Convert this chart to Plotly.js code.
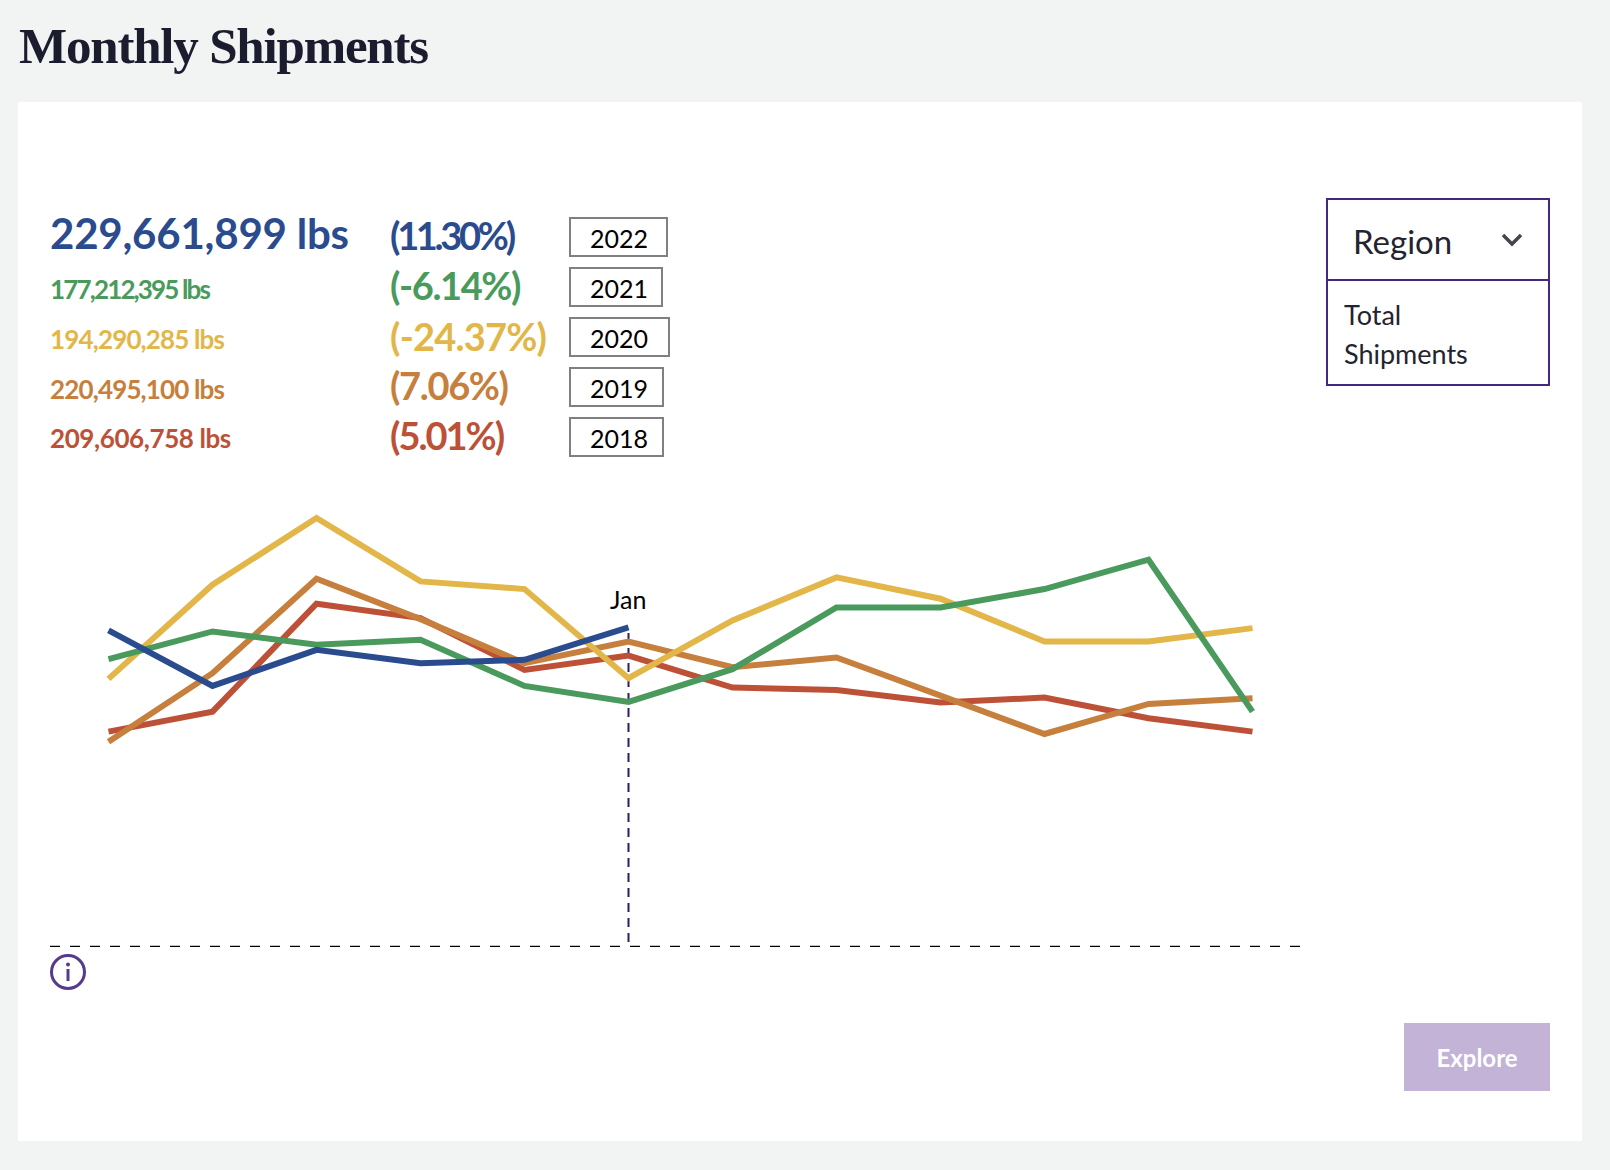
<!DOCTYPE html>
<html>
<head>
<meta charset="utf-8">
<script src="https://cdn.plot.ly/plotly-3.0.1.min.js"></script>
<style>
  html, body { margin: 0; padding: 0; }
  body { width: 1610px; height: 1170px; background: #f2f4f3; position: relative; overflow: hidden; font-family: Lato, sans-serif; }
  #card { position: absolute; left: 18px; top: 102px; width: 1564px; height: 1039px; background: #fff; }
  #plot { position: absolute; left: 0; top: 0; width: 1610px; height: 1170px; }
  .scatterlayer .js-line { stroke-linejoin: miter !important; }
  h1 { position: absolute; left: 19px; top: 14px; margin: 0; font: bold 51px/64px "Liberation Serif", serif; color: #1b1c2e; letter-spacing: -1.2px; }
  .txt { position: absolute; white-space: nowrap; transform: translateY(-50%); }
  .yearbox { position: absolute; box-sizing: border-box; height: 40px; border: 2px solid #808080; font-size: 25px; line-height: 38px; color: #000; padding-left: 19px; }
  #region { position: absolute; box-sizing: border-box; left: 1326px; top: 198px; width: 224px; height: 188px; border: 2px solid #42297e; }
  #region hr { position: absolute; left: 0; right: 0; top: 79px; margin: 0; border: 0; height: 2px; background: #42297e; }
  #explore { position: absolute; left: 1404px; top: 1023px; width: 146px; height: 68px; background: #c2b3d7; color: #fff; font-size: 24px; font-weight: 700; line-height: 70px; text-align: center; }
</style>
</head>
<body>
<div id="card"></div>
<div id="plot"></div>
<h1>Monthly Shipments</h1>
<div id="rows"></div>
<div id="region">
  <div class="txt" style="left:25px;top:41px;font-size:33px;color:#23242f">Region</div>
  <svg style="position:absolute;left:173px;top:32px" width="24" height="16"><path d="M2 3 L11 12 L20 3" fill="none" stroke="#45454d" stroke-width="3.5"/></svg>
  <hr>
  <div class="txt" style="left:16px;top:114px;font-size:27px;color:#23242f">Total</div>
  <div class="txt" style="left:16px;top:153px;font-size:27px;color:#23242f">Shipments</div>
</div>
<svg style="position:absolute;left:48px;top:952px" width="40" height="40">
  <circle cx="20" cy="20" r="16.5" fill="none" stroke="#553a8e" stroke-width="3"/>
  <circle cx="20" cy="12.5" r="2" fill="#553a8e"/>
  <line x1="20" y1="17" x2="20" y2="29" stroke="#553a8e" stroke-width="3"/>
</svg>
<div id="explore">Explore</div>

<script>
  // months run Aug-Jul, values in million lbs
  const months = ['Aug', 'Sep', 'Oct', 'Nov', 'Dec', 'Jan', 'Feb', 'Mar', 'Apr', 'May', 'Jun', 'Jul'];

  const y2018 = [12.90, 14.10, 20.56, 19.70, 16.60, 17.46, 15.54, 15.40, 14.64, 14.94, 13.70, 12.90];
  const y2019 = [12.30, 16.40, 22.06, 19.64, 17.00, 18.30, 16.76, 17.34, 15.06, 12.76, 14.56, 14.90];
  const y2020 = [16.06, 21.70, 25.70, 21.90, 21.44, 16.10, 19.56, 22.14, 20.86, 18.30, 18.30, 19.10];
  const y2021 = [17.24, 18.90, 18.10, 18.40, 15.64, 14.68, 16.64, 20.34, 20.34, 21.44, 23.20, 14.10];
  const y2022 = [18.96, 15.64, 17.80, 17.00, 17.20, 19.14];

  const years = ['2022', '2021', '2020', '2019', '2018'];
  const totals = ['229,661,899 lbs', '177,212,395 lbs', '194,290,285 lbs', '220,495,100 lbs', '209,606,758 lbs'];
  const changes = ['(11.30%)', '(-6.14%)', '(-24.37%)', '(7.06%)', '(5.01%)'];
  const colors = ['#2a4b8d', '#4a9a5d', '#e2b648', '#c67f3c', '#bd5138'];

  const rowTotalY = [233, 289, 339, 389, 438];
  const rowChangeY = [235, 285, 336, 385, 435];
  const totalSpacing = [-0.2, -1.85, -0.85, -0.85, -0.4];
  const changeSpacing = [-3.3, -1.4, -0.8, -1.35, -2];
  const boxTop = [217, 267, 317, 367, 417];
  const boxWidth = [99, 94, 101, 95, 95];

  const rows = document.getElementById('rows');
  years.forEach(function(year, i) {
    const big = i === 0;
    rows.insertAdjacentHTML('beforeend',
      '<div class="txt" style="left:50px;top:' + rowTotalY[i] + 'px;color:' + colors[i] +
      ';font-size:' + (big ? 42 : 26) + 'px;font-weight:700;letter-spacing:' + totalSpacing[i] + 'px">' + totals[i] + '</div>' +
      '<div class="txt" style="left:390px;top:' + rowChangeY[i] + 'px;color:' + colors[i] +
      ';font-size:38px;font-weight:700;letter-spacing:' + changeSpacing[i] + 'px">' + changes[i] + '</div>' +
      '<div class="yearbox" style="left:569px;top:' + boxTop[i] + 'px;width:' + boxWidth[i] + 'px">' + year + '</div>');
  });

  const makeTrace = (name, values, color) => ({
    x: months.slice(0, values.length),
    y: values,
    name: name,
    type: 'scatter',
    mode: 'lines',
    line: { color: color, width: 6 },
    hoverinfo: 'skip'
  });

  const data = [
    makeTrace('2018', y2018, colors[4]),
    makeTrace('2019', y2019, colors[3]),
    makeTrace('2020', y2020, colors[2]),
    makeTrace('2021', y2021, colors[1]),
    makeTrace('2022', y2022, colors[0])
  ];

  const layout = {
    width: 1610,
    height: 1170,
    margin: { l: 50, r: 308, t: 447, b: 223, pad: 0 },
    paper_bgcolor: 'rgba(0,0,0,0)',
    plot_bgcolor: 'rgba(0,0,0,0)',
    showlegend: false,
    xaxis: { type: 'category', categoryorder: 'array', categoryarray: months, range: [-0.5625, 11.476], visible: false },
    yaxis: { range: [0, 29.95], visible: false },
    shapes: [
      { type: 'line', xref: 'paper', x0: 0, x1: 1, yref: 'y', y0: 0, y1: 0, line: { color: '#000', width: 2.5, dash: '10px,10px' } },
      { type: 'line', xref: 'x', x0: 'Jan', x1: 'Jan', yref: 'y', y0: 0.3, y1: y2022[5], layer: 'below', line: { color: '#2f1a6e', width: 2, dash: '9px,6px' } }
    ],
    annotations: [
      { x: 'Jan', y: 20.85, xref: 'x', yref: 'y', xshift: -1, text: 'Jan', showarrow: false, font: { family: 'Lato, sans-serif', size: 25, color: '#000' } }
    ]
  };

  Plotly.newPlot('plot', data, layout, { displayModeBar: false, staticPlot: true });
</script>
</body>
</html>
